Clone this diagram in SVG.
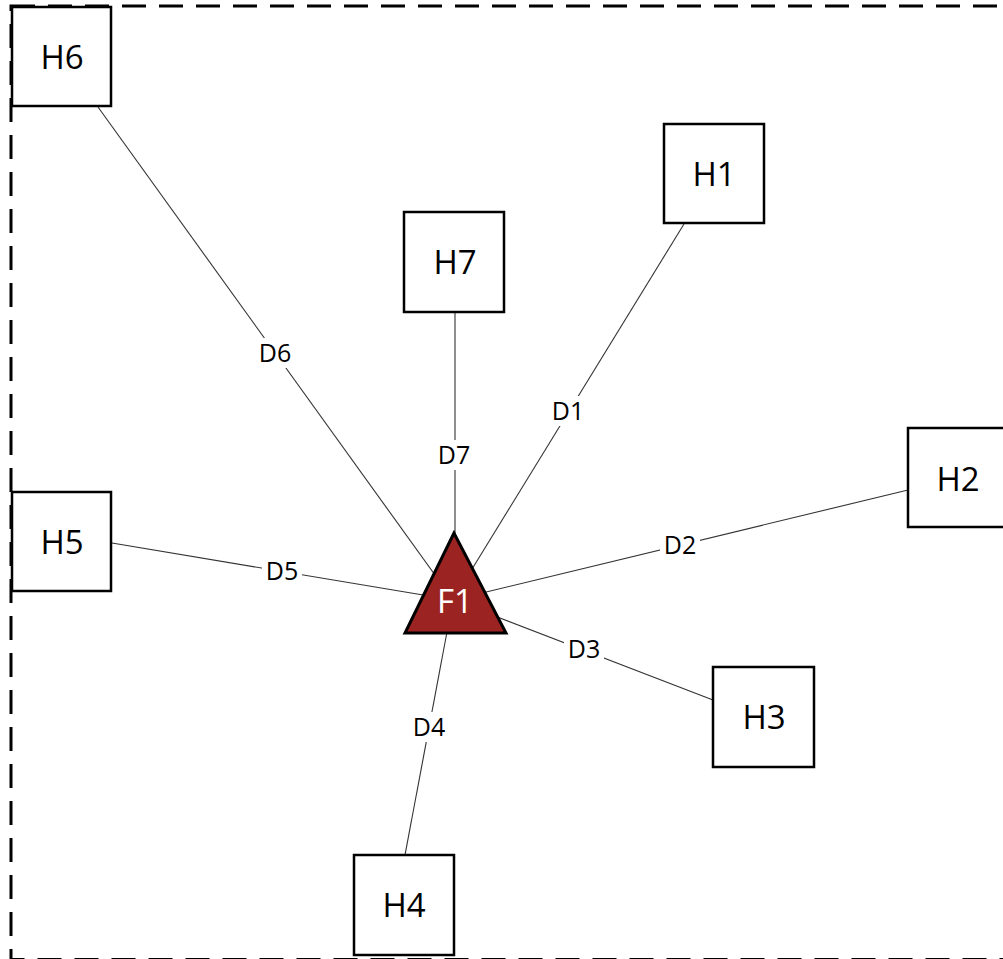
<svg xmlns="http://www.w3.org/2000/svg" width="1003" height="959" viewBox="0 0 1003 959">
<style>
.box{fill:#fff;stroke:#000;stroke-width:2.5}
.lbl{font-family:"Open Sans","Noto Sans",sans-serif;font-size:33px;fill:#000;text-anchor:middle}
.dl{font-family:"Open Sans","Noto Sans",sans-serif;font-size:25px;fill:#000;text-anchor:middle}
.lb{fill:#fff}
.conn line{stroke:#333;stroke-width:1.1}
</style>
<rect width="1003" height="959" fill="#fff"/>
<rect x="11" y="6" width="1010" height="953.5" fill="none" stroke="#000" stroke-width="3" stroke-dasharray="24 13"/>
<g id="connectors" class="conn">
<line x1="684" y1="224" x2="453" y2="600"/>
<line x1="908" y1="490" x2="453" y2="600"/>
<line x1="713" y1="700" x2="453" y2="600"/>
<line x1="405" y1="855" x2="453" y2="600"/>
<line x1="112" y1="543" x2="453" y2="600"/>
<line x1="98" y1="107" x2="453" y2="600"/>
<line x1="455" y1="312" x2="455" y2="540"/>
<rect class="lb" x="548" y="396" width="40" height="30"/>
<text class="dl" x="568" y="420">D1</text>
<rect class="lb" x="660" y="530" width="40" height="30"/>
<text class="dl" x="680" y="554">D2</text>
<rect class="lb" x="564" y="634" width="40" height="30"/>
<text class="dl" x="584" y="658">D3</text>
<rect class="lb" x="409" y="712" width="40" height="30"/>
<text class="dl" x="429" y="736">D4</text>
<rect class="lb" x="262" y="556" width="40" height="30"/>
<text class="dl" x="282" y="580">D5</text>
<rect class="lb" x="255" y="338" width="40" height="30"/>
<text class="dl" x="275" y="362">D6</text>
<rect class="lb" x="434" y="440" width="40" height="30"/>
<text class="dl" x="454" y="464">D7</text>
</g>
<g id="H1"><rect class="box" x="664" y="124" width="100" height="99"/><text class="lbl" x="714" y="186">H1</text></g>
<g id="H2"><rect class="box" x="908" y="428" width="102" height="99"/><text class="lbl" x="958" y="491">H2</text></g>
<g id="H3"><rect class="box" x="713" y="667" width="101" height="100"/><text class="lbl" x="764" y="729">H3</text></g>
<g id="H4"><rect class="box" x="354" y="855" width="100" height="100"/><text class="lbl" x="404" y="917">H4</text></g>
<g id="H5"><rect class="box" x="12" y="492" width="99" height="99"/><text class="lbl" x="62" y="554">H5</text></g>
<g id="H6"><rect class="box" x="12" y="7" width="99" height="99"/><text class="lbl" x="62" y="69">H6</text></g>
<g id="H7"><rect class="box" x="404" y="212" width="100" height="100"/><text class="lbl" x="455" y="274">H7</text></g>
<g id="F1"><polygon points="454,533 405,633 506,633" fill="#9B2423" stroke="#000" stroke-width="3" stroke-linejoin="miter"/><text class="lbl" x="455" y="613" style="fill:#fff">F1</text></g>
</svg>
